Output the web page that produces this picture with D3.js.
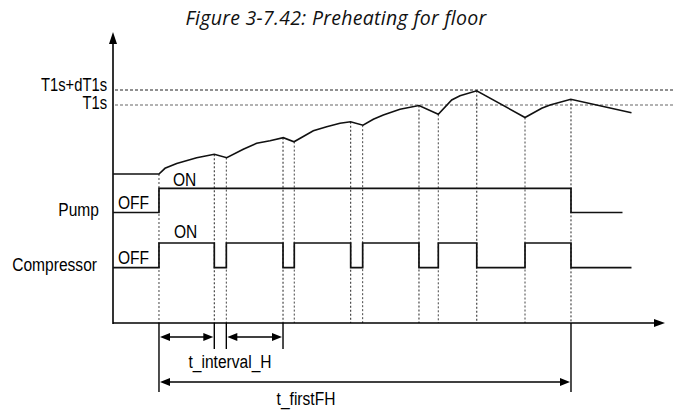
<!DOCTYPE html>
<html><head><meta charset="utf-8">
<script src="https://cdn.jsdelivr.net/npm/d3@7"></script>
<style>
html,body{margin:0;padding:0;background:#fff;}
svg{display:block;}
</style></head>
<body>
<script>
// ---- data ----
const title = "Figure 3-7.42: Preheating for floor";
const thresholdLabels = ["T1s+dT1s", "T1s"];
const thresholdValues = [37, 35];
const tempTimes  = [0, 8.33, 9.42, 11.54, 15.16, 18.35, 20.6, 23.6, 26.03, 28.44, 30.85, 32.79, 36.29, 38.71, 41.12, 43.03, 45.29, 47.16, 48.97, 51.99, 55.43, 58.93, 61.36, 62.86, 65.89, 74.64, 77.66, 79.17, 82.93, 93.93];
const tempValues = [25.8, 25.8, 26.56, 27.2, 27.97, 28.43, 27.97, 29.1, 29.9, 30.24, 30.64, 30.1, 31.57, 32.1, 32.56, 32.77, 32.3, 33.1, 33.67, 34.43, 34.93, 33.76, 35.67, 36.24, 36.9, 33.33, 34.56, 35.0, 35.76, 33.97];
const signalLabels = ["Pump", "Compressor"];
const stateLabels = ["OFF", "ON"];
const pumpTimes  = [0, 8.33, 82.97, 92.3];
const pumpStates = [0, 1, 0, 0];
const compTimes  = [0, 8.33, 18.35, 20.53, 30.8, 32.84, 43.06, 45.23, 55.43, 58.93, 65.9, 74.64, 82.97, 93.93];
const compStates = [0, 1, 0, 1, 0, 1, 0, 1, 0, 1, 0, 1, 0, 0];
const eventTimes = [8.33, 18.35, 20.53, 30.8, 32.84, 43.06, 45.23, 55.43, 58.93, 65.9, 74.64, 82.97];
const intervalLabel = "t_interval_H";
const intervalSpans = [[8.33, 18.35], [20.53, 30.8]];
const firstLabel = "t_firstFH";
const firstSpan = [8.33, 82.97];

// ---- layout ----
const W = 673, H = 410;
const x = d3.scaleLinear().domain([0, 100]).range([113, 665]);
const tempY = d3.scaleLinear().domain([25, 37]).range([180, 90]);
const pumpY = d3.scaleLinear().domain([0, 1]).range([212.5, 188.3]);
const compY = d3.scaleLinear().domain([0, 1]).range([267.7, 243]);
const axisY = 323, axisTop = 32;

const svg = d3.select("body").append("svg").attr("width", W).attr("height", H);

function fontAvailable(name){
  const c = document.createElement("canvas").getContext("2d");
  c.font = "20px monospace"; const a = c.measureText("Compressor T1s+dT1s").width;
  c.font = "20px '" + name + "', monospace"; const b = c.measureText("Compressor T1s+dT1s").width;
  return a !== b;
}
const hasNarrow = fontAvailable("Liberation Sans Narrow");
const FS = 19;
function narrowText(g, txt, px, py, anchor, fs){
  const t = g.append("text").text(txt).attr("text-anchor", anchor).attr("font-size", fs || FS).attr("fill", "#000");
  if (hasNarrow){
    t.attr("font-family", "'Liberation Sans Narrow', 'Arial Narrow', sans-serif").attr("x", px).attr("y", py);
  } else {
    t.attr("font-family", "'Liberation Sans', Arial, sans-serif").attr("x", 0).attr("y", 0)
     .attr("transform", `translate(${px},${py}) scale(0.82,1)`);
  }
  return t;
}

// title
svg.append("text").attr("x", 336).attr("y", 25).attr("text-anchor", "middle")
  .attr("font-family", "'Open Sans', Lato, sans-serif").attr("font-style", "italic")
  .attr("font-size", 19.5).attr("letter-spacing", 0.3).attr("fill", "#111").text(title);

// threshold dotted lines
thresholdValues.forEach((v, i) => {
  svg.append("line").attr("x1", 115).attr("x2", W).attr("y1", tempY(v)).attr("y2", tempY(v))
    .attr("stroke", i === 0 ? "#222" : "#666").attr("stroke-width", 1.2).attr("stroke-dasharray", "3,2");
});
narrowText(svg, thresholdLabels[0], 107, tempY(thresholdValues[0]) + 1, "end", 18);
narrowText(svg, thresholdLabels[1], 107, tempY(thresholdValues[1]) + 4, "end", 18);

// vertical dotted event lines
const tempAt = t => {
  for (let i = 0; i < tempTimes.length - 1; i++) {
    if (t >= tempTimes[i] && t <= tempTimes[i + 1]) {
      const f = (t - tempTimes[i]) / (tempTimes[i + 1] - tempTimes[i]);
      return tempValues[i] + f * (tempValues[i + 1] - tempValues[i]);
    }
  }
  return tempValues[tempValues.length - 1];
};
eventTimes.forEach((t, i) => {
  svg.append("line").attr("x1", x(t)).attr("x2", x(t)).attr("y1", tempY(tempAt(t))).attr("y2", axisY)
    .attr("stroke", i % 2 ? "#222" : "#444").attr("stroke-width", 1).attr("stroke-dasharray", "2,2");
});

// axes
svg.append("line").attr("x1", x(0)).attr("x2", x(0)).attr("y1", axisTop + 10).attr("y2", axisY + 1)
  .attr("stroke", "#000").attr("stroke-width", 1.6);
svg.append("path").attr("d", `M${x(0)},${axisTop} L${x(0) - 4},${axisTop + 12} L${x(0) + 4},${axisTop + 12} Z`).attr("fill", "#000");
svg.append("line").attr("x1", x(0)).attr("x2", x(100) - 8).attr("y1", axisY).attr("y2", axisY)
  .attr("stroke", "#000").attr("stroke-width", 1.6);
svg.append("path").attr("d", `M${x(100)},${axisY} L${x(100) - 11},${axisY - 4} L${x(100) - 11},${axisY + 4} Z`).attr("fill", "#000");

// temperature
const tempLine = d3.line().x((d, i) => x(tempTimes[i])).y((d) => tempY(d));
svg.append("path").attr("d", tempLine(tempValues)).attr("fill", "none").attr("stroke", "#111").attr("stroke-width", 1.6);

// signals
const stepLine = (times, sc) => d3.line().curve(d3.curveStepAfter).x((d, i) => x(times[i])).y(d => sc(d));
svg.append("path").attr("d", stepLine(pumpTimes, pumpY)(pumpStates)).attr("fill", "none").attr("stroke", "#111").attr("stroke-width", 1.7);
svg.append("path").attr("d", stepLine(compTimes, compY)(compStates)).attr("fill", "none").attr("stroke", "#111").attr("stroke-width", 1.7);

// signal labels
narrowText(svg, signalLabels[0], 99, pumpY(0) + 3, "end");
narrowText(svg, signalLabels[1], 97, compY(0) + 3, "end");
narrowText(svg, stateLabels[0], 118, pumpY(0) - 4, "start");
narrowText(svg, stateLabels[0], 118, compY(0) - 4, "start");
narrowText(svg, stateLabels[1], 173, pumpY(1) - 2, "start");
narrowText(svg, stateLabels[1], 174, compY(1) - 5, "start");

// measurement arrows
function arrow(x1, x2, y){
  svg.append("line").attr("x1", x1 + 8).attr("x2", x2 - 8).attr("y1", y).attr("y2", y).attr("stroke", "#000").attr("stroke-width", 1.4);
  svg.append("path").attr("d", `M${x1},${y} L${x1 + 10},${y - 4} L${x1 + 10},${y + 4} Z`).attr("fill", "#000");
  svg.append("path").attr("d", `M${x2},${y} L${x2 - 10},${y - 4} L${x2 - 10},${y + 4} Z`).attr("fill", "#000");
}
function tick(t, y2){
  svg.append("line").attr("x1", x(t)).attr("x2", x(t)).attr("y1", axisY).attr("y2", y2).attr("stroke", "#000").attr("stroke-width", 1.4);
}
tick(firstSpan[0], 392); tick(firstSpan[1], 392);
intervalSpans.forEach(s => { tick(s[1], 349); });
tick(intervalSpans[1][0], 349);
intervalSpans.forEach(s => arrow(x(s[0]) + 1, x(s[1]) - 1, 337));
arrow(x(firstSpan[0]) + 1, x(firstSpan[1]) - 1, 382);

narrowText(svg, intervalLabel, 230, 368, "middle");
narrowText(svg, firstLabel, 306, 405, "middle");
</script>
</body></html>
